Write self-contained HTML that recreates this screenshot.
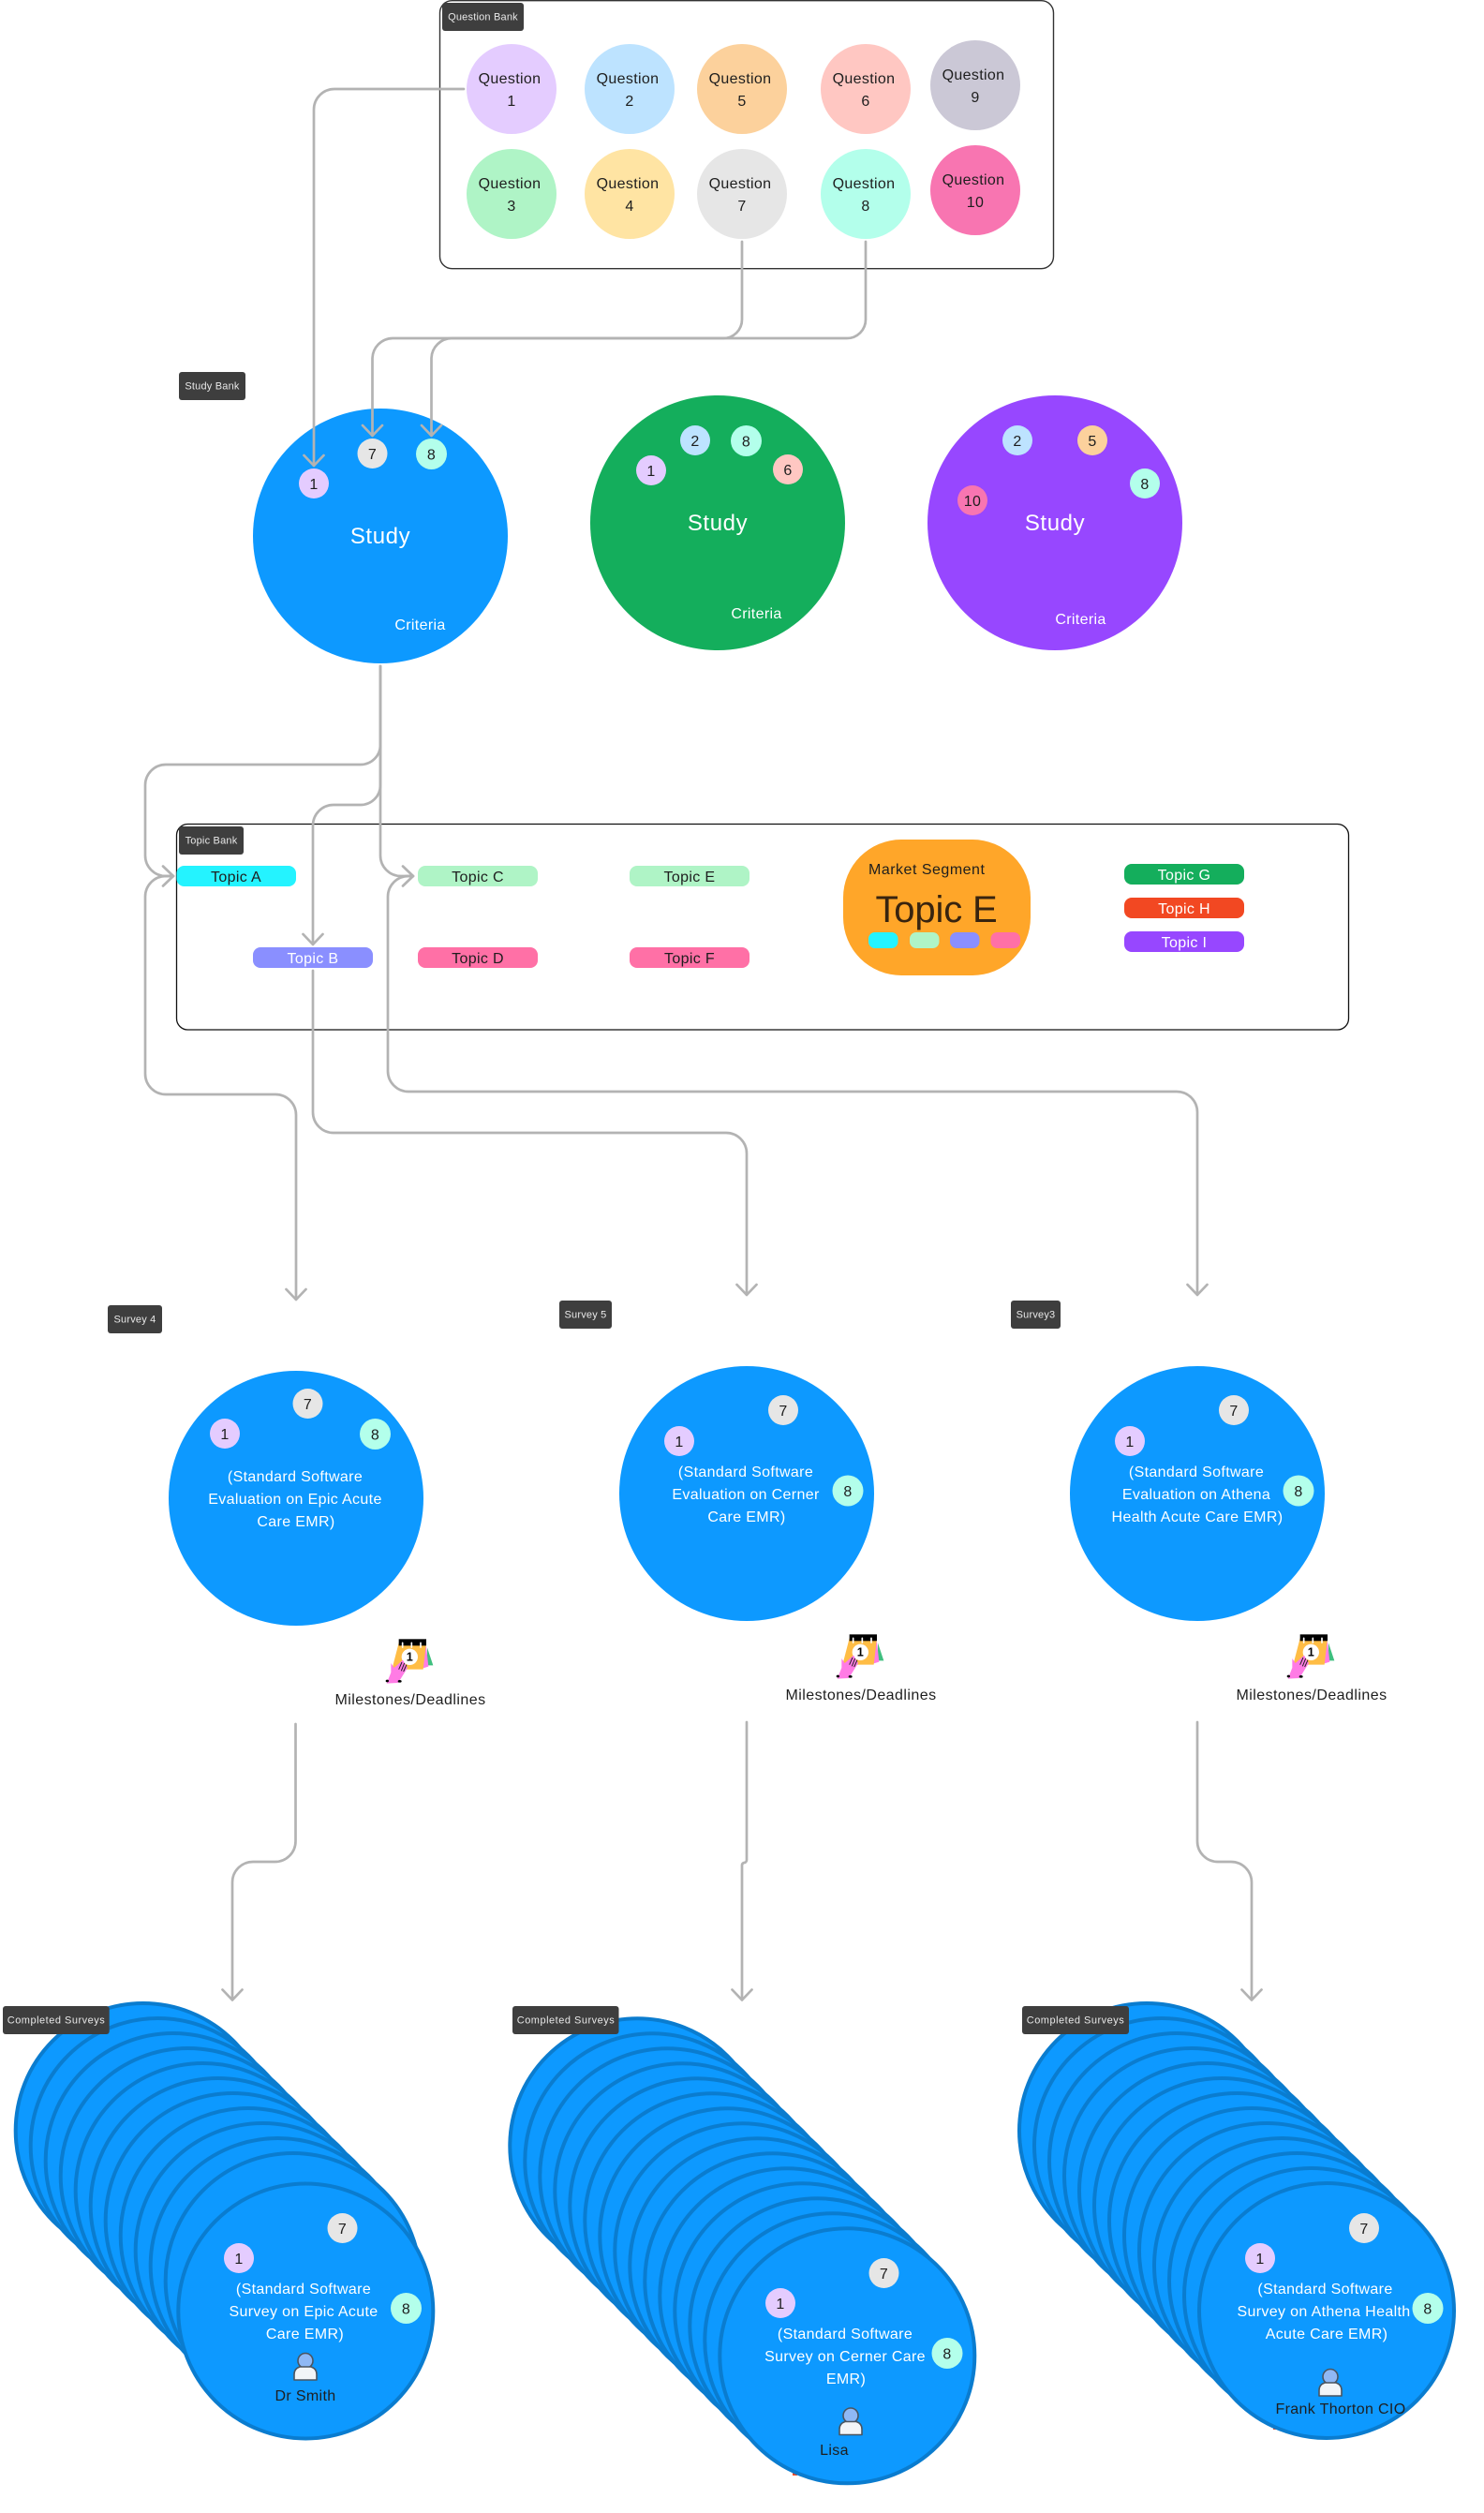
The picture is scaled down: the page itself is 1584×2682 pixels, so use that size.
<!DOCTYPE html>
<html lang="en">
<head>
<meta charset="utf-8">
<title>Survey Diagram</title>
<style>
html,body{margin:0;padding:0;background:#fff}
svg{display:block}
text{font-family:"Liberation Sans",sans-serif}
.d{font-size:16px;fill:#1e1e1e;text-anchor:middle;letter-spacing:.35px}
.w{font-size:16px;fill:#fff;text-anchor:middle;letter-spacing:.35px}
.l{font-size:11px;fill:#e8e8e8;text-anchor:middle;letter-spacing:.2px}
.s{font-size:24px;fill:#fff;text-anchor:middle;letter-spacing:.6px}
.c path{fill:none;stroke:#b3b3b3;stroke-width:2.7;stroke-linecap:round;stroke-linejoin:round}
.st{fill:#0d99ff;stroke:#0a7ccf;stroke-width:4}
</style>
</head>
<body>
<svg xmlns="http://www.w3.org/2000/svg" width="1584" height="2682" viewBox="0 0 1584 2682">
<rect width="1584" height="2682" fill="#fff"/>

<!-- Question Bank -->
<rect x="469.5" y="0.7" width="655" height="286" rx="13" fill="#fff" stroke="#333" stroke-width="1.4"/>
<rect x="472" y="3" width="87" height="30" rx="3" fill="#3e3e3e"/>
<text class="l" x="515.5" y="21.5">Question Bank</text>
<circle cx="546" cy="95" r="48" fill="#e4ccff"/><text class="d" x="544" y="89">Question</text><text class="d" x="546" y="113">1</text>
<circle cx="672" cy="95" r="48" fill="#bde3ff"/><text class="d" x="670" y="89">Question</text><text class="d" x="672" y="113">2</text>
<circle cx="792" cy="95" r="48" fill="#fcd19c"/><text class="d" x="790" y="89">Question</text><text class="d" x="792" y="113">5</text>
<circle cx="924" cy="95" r="48" fill="#ffc7c2"/><text class="d" x="922" y="89">Question</text><text class="d" x="924" y="113">6</text>
<circle cx="1041" cy="91" r="48" fill="#cbc8d6"/><text class="d" x="1039" y="85">Question</text><text class="d" x="1041" y="109">9</text>
<circle cx="546" cy="207" r="48" fill="#aff4c6"/><text class="d" x="544" y="201">Question</text><text class="d" x="546" y="225">3</text>
<circle cx="672" cy="207" r="48" fill="#ffe4a3"/><text class="d" x="670" y="201">Question</text><text class="d" x="672" y="225">4</text>
<circle cx="792" cy="207" r="48" fill="#e6e6e6"/><text class="d" x="790" y="201">Question</text><text class="d" x="792" y="225">7</text>
<circle cx="924" cy="207" r="48" fill="#b3ffeb"/><text class="d" x="922" y="201">Question</text><text class="d" x="924" y="225">8</text>
<circle cx="1041" cy="203" r="48" fill="#f875b1"/><text class="d" x="1039" y="197">Question</text><text class="d" x="1041" y="221">10</text>

<!-- Study Bank -->
<rect x="191" y="397" width="71" height="30" rx="3" fill="#3e3e3e"/>
<text class="l" x="226.5" y="415.5">Study Bank</text>
<circle cx="406" cy="572" r="136" fill="#0d99ff"/>
<text class="s" x="406" y="580">Study</text>
<text class="w" x="448.5" y="672">Criteria</text>
<circle cx="335" cy="516" r="16" fill="#e4ccff"/><text class="d" x="335" y="522">1</text>
<circle cx="397.5" cy="484" r="16" fill="#e6e6e6"/><text class="d" x="397.5" y="490">7</text>
<circle cx="460.5" cy="484.5" r="16.5" fill="#b3ffeb"/><text class="d" x="460.5" y="490.5">8</text>

<circle cx="766" cy="558" r="136" fill="#14ae5c"/>
<text class="s" x="766" y="566">Study</text>
<text class="w" x="807.5" y="660">Criteria</text>
<circle cx="695" cy="502" r="16" fill="#e4ccff"/><text class="d" x="695" y="508">1</text>
<circle cx="742" cy="470" r="16" fill="#bde3ff"/><text class="d" x="742" y="476">2</text>
<circle cx="796.5" cy="470.5" r="16.5" fill="#b3ffeb"/><text class="d" x="796.5" y="476.5">8</text>
<circle cx="841" cy="501" r="16" fill="#ffc7c2"/><text class="d" x="841" y="507">6</text>

<circle cx="1126" cy="558" r="136" fill="#9747ff"/>
<text class="s" x="1126" y="566">Study</text>
<text class="w" x="1153.5" y="666">Criteria</text>
<circle cx="1086" cy="470" r="16" fill="#bde3ff"/><text class="d" x="1086" y="476">2</text>
<circle cx="1166" cy="470" r="16" fill="#fcd19c"/><text class="d" x="1166" y="476">5</text>
<circle cx="1222" cy="516" r="16" fill="#b3ffeb"/><text class="d" x="1222" y="522">8</text>
<circle cx="1038" cy="534" r="16" fill="#f875b1"/><text class="d" x="1038" y="540">10</text>

<!-- Topic Bank -->
<rect x="188.5" y="879.5" width="1251" height="219.5" rx="12" fill="#fff" stroke="#111" stroke-width="1.3"/>
<rect x="191" y="882" width="69" height="30" rx="3" fill="#3e3e3e"/>
<text class="l" x="225.5" y="900.5">Topic Bank</text>
<rect x="188.5" y="924" width="127.5" height="22" rx="8" fill="#24f3ff"/><text class="d" x="252" y="941">Topic A</text>
<rect x="446" y="924" width="128" height="22" rx="8" fill="#aff4c6"/><text class="d" x="510" y="941">Topic C</text>
<rect x="672" y="924" width="128" height="22" rx="8" fill="#aff4c6"/><text class="d" x="736" y="941">Topic E</text>
<rect x="270" y="1011" width="128" height="22" rx="8" fill="#8a8fff"/><text class="w" x="334" y="1028">Topic B</text>
<rect x="446" y="1011" width="128" height="22" rx="8" fill="#ff70a6"/><text class="d" x="510" y="1028">Topic D</text>
<rect x="672" y="1011" width="128" height="22" rx="8" fill="#ff70a6"/><text class="d" x="736" y="1028">Topic F</text>

<rect x="900" y="896" width="200" height="145" rx="62" fill="#ffa629"/>
<text x="927" y="933" style="font-size:16px;fill:#1e1e1e;letter-spacing:.5px">Market Segment</text>
<text x="999.5" y="984" style="font-size:40px;fill:#38240f;text-anchor:middle;letter-spacing:-.15px">Topic E</text>
<rect x="927" y="995" width="31.5" height="17" rx="7" fill="#24f3ff"/>
<rect x="971" y="995" width="31.5" height="17" rx="7" fill="#aff4c6"/>
<rect x="1014" y="995" width="31.5" height="17" rx="7" fill="#8a8fff"/>
<rect x="1057.5" y="995" width="31.5" height="17" rx="7" fill="#ff70a6"/>

<rect x="1200" y="922" width="128" height="22" rx="8" fill="#14ae5c"/><text class="w" x="1264" y="939">Topic G</text>
<rect x="1200" y="958" width="128" height="22" rx="8" fill="#f24822"/><text class="w" x="1264" y="975">Topic H</text>
<rect x="1200" y="994" width="128" height="22" rx="8" fill="#9747ff"/><text class="w" x="1264" y="1011">Topic I</text>

<!-- Surveys -->
<rect x="115" y="1393" width="58" height="30" rx="3" fill="#3e3e3e"/>
<text class="l" x="144" y="1411.5">Survey 4</text>
<circle cx="316" cy="1599" r="136" fill="#0d99ff"/>
<circle cx="240" cy="1530" r="16" fill="#e4ccff"/><text class="d" x="240" y="1536">1</text>
<circle cx="328.5" cy="1498" r="16" fill="#e6e6e6"/><text class="d" x="328.5" y="1504">7</text>
<circle cx="400.5" cy="1530.5" r="16.5" fill="#b3ffeb"/><text class="d" x="400.5" y="1536.5">8</text>
<text class="w" x="315" y="1581">(Standard Software</text>
<text class="w" x="315" y="1605">Evaluation on Epic Acute</text>
<text class="w" x="316" y="1629">Care EMR)</text>
<text class="d" x="438" y="1819" style="letter-spacing:.45px">Milestones/Deadlines</text>

<g transform="translate(-1 0)">
<rect x="598" y="1388" width="56" height="30" rx="3" fill="#3e3e3e"/>
<text class="l" x="626" y="1406.5">Survey 5</text>
<circle cx="798" cy="1594" r="136" fill="#0d99ff"/>
<circle cx="726" cy="1538" r="16" fill="#e4ccff"/><text class="d" x="726" y="1544">1</text>
<circle cx="837" cy="1505" r="16" fill="#e6e6e6"/><text class="d" x="837" y="1511">7</text>
<circle cx="906" cy="1591" r="16.5" fill="#b3ffeb"/><text class="d" x="906" y="1597">8</text>
<text class="w" x="797" y="1576">(Standard Software</text>
<text class="w" x="797" y="1600">Evaluation on Cerner</text>
<text class="w" x="798" y="1624">Care EMR)</text>
<text class="d" x="920" y="1814" style="letter-spacing:.45px">Milestones/Deadlines</text>
</g>

<g transform="translate(-2 0)">
<rect x="1081" y="1388" width="53" height="30" rx="3" fill="#3e3e3e"/>
<text class="l" x="1107.5" y="1406.5">Survey3</text>
<circle cx="1280" cy="1594" r="136" fill="#0d99ff"/>
<circle cx="1208" cy="1538" r="16" fill="#e4ccff"/><text class="d" x="1208" y="1544">1</text>
<circle cx="1319" cy="1505" r="16" fill="#e6e6e6"/><text class="d" x="1319" y="1511">7</text>
<circle cx="1388" cy="1591" r="16.5" fill="#b3ffeb"/><text class="d" x="1388" y="1597">8</text>
<text class="w" x="1279" y="1576">(Standard Software</text>
<text class="w" x="1279" y="1600">Evaluation on Athena</text>
<text class="w" x="1280" y="1624">Health Acute Care EMR)</text>
<text class="d" x="1402" y="1814" style="letter-spacing:.45px">Milestones/Deadlines</text>
</g>

<!-- Calendars -->
<g transform="translate(380 1700) scale(.3333)">
<path d="M228 175L247 232H228Z" fill="#3fbf7f"/><path d="M225 172L232 236L205 244V172Z" fill="#ff7be5"/>
<path d="M137 160H225L215 245H115Z" fill="#ffbd45"/><rect x="137" y="148" width="88" height="21" fill="#000"/>
<path d="M149 160V174M178 160V174M207 160V174" stroke="#fff" stroke-width="5" stroke-linecap="round"/>
<circle cx="172" cy="205" r="26" fill="#fff"/><text x="172" y="218" style="font-size:38px;font-weight:bold;fill:#000;text-anchor:middle">1</text>
<path d="M112 225L122 240L150 215L165 240L135 288L98 290L112 255Z" fill="#ff7be5"/>
<path d="M137 245L147 222M145 250L155 225M152 252L162 230" stroke="#222" stroke-width="3" fill="none"/>
<ellipse cx="100" cy="282" rx="5" ry="4" fill="#000"/><ellipse cx="140" cy="283" rx="6" ry="4" fill="#000"/>
</g>
<g transform="translate(861 1695) scale(.3333)">
<path d="M228 175L247 232H228Z" fill="#3fbf7f"/><path d="M225 172L232 236L205 244V172Z" fill="#ff7be5"/>
<path d="M137 160H225L215 245H115Z" fill="#ffbd45"/><rect x="137" y="148" width="88" height="21" fill="#000"/>
<path d="M149 160V174M178 160V174M207 160V174" stroke="#fff" stroke-width="5" stroke-linecap="round"/>
<circle cx="172" cy="205" r="26" fill="#fff"/><text x="172" y="218" style="font-size:38px;font-weight:bold;fill:#000;text-anchor:middle">1</text>
<path d="M112 225L122 240L150 215L165 240L135 288L98 290L112 255Z" fill="#ff7be5"/>
<path d="M137 245L147 222M145 250L155 225M152 252L162 230" stroke="#222" stroke-width="3" fill="none"/>
<ellipse cx="100" cy="282" rx="5" ry="4" fill="#000"/><ellipse cx="140" cy="283" rx="6" ry="4" fill="#000"/>
</g>
<g transform="translate(1342 1695) scale(.3333)">
<path d="M228 175L247 232H228Z" fill="#3fbf7f"/><path d="M225 172L232 236L205 244V172Z" fill="#ff7be5"/>
<path d="M137 160H225L215 245H115Z" fill="#ffbd45"/><rect x="137" y="148" width="88" height="21" fill="#000"/>
<path d="M149 160V174M178 160V174M207 160V174" stroke="#fff" stroke-width="5" stroke-linecap="round"/>
<circle cx="172" cy="205" r="26" fill="#fff"/><text x="172" y="218" style="font-size:38px;font-weight:bold;fill:#000;text-anchor:middle">1</text>
<path d="M112 225L122 240L150 215L165 240L135 288L98 290L112 255Z" fill="#ff7be5"/>
<path d="M137 245L147 222M145 250L155 225M152 252L162 230" stroke="#222" stroke-width="3" fill="none"/>
<ellipse cx="100" cy="282" rx="5" ry="4" fill="#000"/><ellipse cx="140" cy="283" rx="6" ry="4" fill="#000"/>
</g>

<!-- Completed stack 1 -->
<g class="st">
<circle cx="152.7" cy="2274" r="136"/><circle cx="168.7" cy="2290" r="136"/><circle cx="184.7" cy="2306" r="136"/><circle cx="200.7" cy="2322" r="136"/><circle cx="216.7" cy="2338" r="136"/><circle cx="232.7" cy="2354" r="136"/><circle cx="248.7" cy="2370" r="136"/><circle cx="264.7" cy="2386" r="136"/><circle cx="280.7" cy="2402" r="136"/><circle cx="296.7" cy="2418" r="136"/><circle cx="312.7" cy="2434" r="136"/><circle cx="326.3" cy="2466.5" r="136"/>
</g>
<circle cx="255" cy="2410" r="16" fill="#e4ccff"/><text class="d" x="255" y="2416">1</text>
<circle cx="365.5" cy="2378" r="16" fill="#e6e6e6"/><text class="d" x="365.5" y="2384">7</text>
<circle cx="433.5" cy="2463.5" r="16.5" fill="#b3ffeb"/><text class="d" x="433.5" y="2469.5">8</text>
<text class="w" x="324" y="2448">(Standard Software</text>
<text class="w" x="324" y="2472">Survey on Epic Acute</text>
<text class="w" x="325.5" y="2496">Care EMR)</text>
<g transform="translate(313 2510)"><circle cx="13" cy="9.5" r="8" fill="#8fb8f5" stroke="#4a5560" stroke-width="1.6"/><path d="M1 30V24Q1 18 7 16H19Q25 18 25 24V30Z" fill="#f2f5f8" stroke="#4a5560" stroke-width="1.6" stroke-linejoin="round"/></g>
<text class="d" x="326" y="2562">Dr Smith</text>
<rect x="3" y="2141" width="113.7" height="30" rx="3" fill="#3e3e3e"/>
<text class="l" x="60" y="2159.5" style="letter-spacing:.5px">Completed Surveys</text>

<!-- Completed stack 2 -->
<rect x="846" y="2638" width="5" height="4" fill="#f24822"/>
<g class="st">
<circle cx="680.3" cy="2290.3" r="136"/><circle cx="696.3" cy="2306.3" r="136"/><circle cx="712.3" cy="2322.3" r="136"/><circle cx="728.3" cy="2338.3" r="136"/><circle cx="744.3" cy="2354.3" r="136"/><circle cx="760.3" cy="2370.3" r="136"/><circle cx="776.3" cy="2386.3" r="136"/><circle cx="792.3" cy="2402.3" r="136"/><circle cx="808.3" cy="2418.3" r="136"/><circle cx="824.3" cy="2434.3" r="136"/><circle cx="840.3" cy="2450.3" r="136"/><circle cx="856.3" cy="2466.3" r="136"/><circle cx="872.3" cy="2482.3" r="136"/><circle cx="888.3" cy="2498.3" r="136"/><circle cx="904.3" cy="2514.3" r="136"/>
</g>
<circle cx="833" cy="2458" r="16" fill="#e4ccff"/><text class="d" x="833" y="2464">1</text>
<circle cx="943.5" cy="2426" r="16" fill="#e6e6e6"/><text class="d" x="943.5" y="2432">7</text>
<circle cx="1011" cy="2511.5" r="16.5" fill="#b3ffeb"/><text class="d" x="1011" y="2517.5">8</text>
<text class="w" x="902" y="2496">(Standard Software</text>
<text class="w" x="902" y="2520">Survey on Cerner Care</text>
<text class="w" x="903" y="2544">EMR)</text>
<g transform="translate(895 2568.5)"><circle cx="13" cy="9.5" r="8" fill="#8fb8f5" stroke="#4a5560" stroke-width="1.6"/><path d="M1 30V24Q1 18 7 16H19Q25 18 25 24V30Z" fill="#f2f5f8" stroke="#4a5560" stroke-width="1.6" stroke-linejoin="round"/></g>
<text class="d" x="890.5" y="2620">Lisa</text>
<rect x="547" y="2141" width="113.5" height="30" rx="3" fill="#3e3e3e"/>
<text class="l" x="604" y="2159.5" style="letter-spacing:.5px">Completed Surveys</text>

<!-- Completed stack 3 -->
<rect x="1359" y="2589" width="5" height="4" fill="#f24822"/>
<g class="st">
<circle cx="1224" cy="2274" r="136"/><circle cx="1240" cy="2290" r="136"/><circle cx="1256" cy="2306" r="136"/><circle cx="1272" cy="2322" r="136"/><circle cx="1288" cy="2338" r="136"/><circle cx="1304" cy="2354" r="136"/><circle cx="1320" cy="2370" r="136"/><circle cx="1336" cy="2386" r="136"/><circle cx="1352" cy="2402" r="136"/><circle cx="1368" cy="2418" r="136"/><circle cx="1384" cy="2434" r="136"/><circle cx="1400" cy="2450" r="136"/><circle cx="1416" cy="2466" r="136"/>
</g>
<circle cx="1345" cy="2410" r="16" fill="#e4ccff"/><text class="d" x="1345" y="2416">1</text>
<circle cx="1456" cy="2378" r="16" fill="#e6e6e6"/><text class="d" x="1456" y="2384">7</text>
<circle cx="1524" cy="2463.5" r="16.5" fill="#b3ffeb"/><text class="d" x="1524" y="2469.5">8</text>
<text class="w" x="1414.5" y="2448">(Standard Software</text>
<text class="w" x="1413" y="2472">Survey on Athena Health</text>
<text class="w" x="1416" y="2496">Acute Care EMR)</text>
<g transform="translate(1407 2527)"><circle cx="13" cy="9.5" r="8" fill="#8fb8f5" stroke="#4a5560" stroke-width="1.6"/><path d="M1 30V24Q1 18 7 16H19Q25 18 25 24V30Z" fill="#f2f5f8" stroke="#4a5560" stroke-width="1.6" stroke-linejoin="round"/></g>
<text class="d" x="1431" y="2576">Frank Thorton CIO</text>
<rect x="1091" y="2141" width="114" height="30" rx="3" fill="#3e3e3e"/>
<text class="l" x="1148" y="2159.5" style="letter-spacing:.5px">Completed Surveys</text>

<!-- Connectors -->
<g class="c">
<path d="M495 95H357A22 22 0 0 0 335 117V497M324.5 486L335 497L345.5 486"/>
<path d="M792 258V341A20 20 0 0 1 772 361H419A22 22 0 0 0 397.5 383V465M387 454L397.5 465L408 454"/>
<path d="M924 258V341A20 20 0 0 1 904 361H483A22 22 0 0 0 460.5 383V465M450 454L460.5 465L471 454"/>
<path d="M406 711V795A21 21 0 0 1 385 816H177A22 22 0 0 0 155 838V913A22 22 0 0 0 177 935H185M174 924.5L185 935L174 945.5"/>
<path d="M406 711V838A21 21 0 0 1 385 859H356A22 22 0 0 0 334 881V1008M323.5 997L334 1008L344.5 997"/>
<path d="M406 711V913A22 22 0 0 0 428 935H441M430 924.5L441 935L430 945.5"/>
<path d="M185 935H177A22 22 0 0 0 155 957V1146A22 22 0 0 0 177 1168H294A22 22 0 0 1 316 1190V1387M305.5 1376L316 1387L326.5 1376"/>
<path d="M441 935H436A22 22 0 0 0 414 957V1143A22 22 0 0 0 436 1165H1256A22 22 0 0 1 1278 1187V1382M1267.5 1371L1278 1382L1288.5 1371"/>
<path d="M334 1036V1187A22 22 0 0 0 356 1209H775A22 22 0 0 1 797 1231V1382M786.5 1371L797 1382L807.5 1371"/>
<path d="M315.5 1840V1965A22 22 0 0 1 293.5 1987H270A22 22 0 0 0 248 2009V2134.5M237.5 2123.5L248 2134.5L258.5 2123.5"/>
<path d="M797 1838V1985A3 3 0 0 1 794 1988A3 3 0 0 0 792 1991V2134.5M781.5 2123.5L792 2134.5L802.5 2123.5"/>
<path d="M1278 1838V1965A22 22 0 0 0 1300 1987H1314A22 22 0 0 1 1336 2009V2134.5M1325.5 2123.5L1336 2134.5L1346.5 2123.5"/>
</g>
</svg>
</body>
</html>
